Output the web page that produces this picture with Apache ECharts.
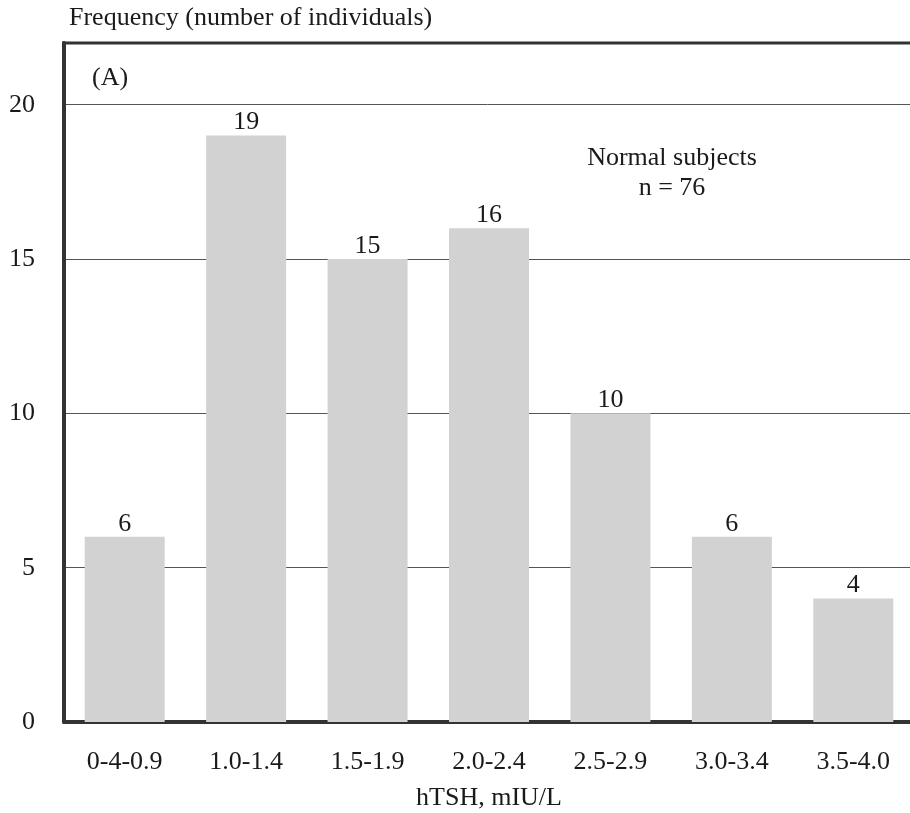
<!DOCTYPE html>
<html>
<head>
<meta charset="utf-8">
<script src="https://cdn.jsdelivr.net/npm/echarts@6/dist/echarts.min.js"></script>
<style>
  html, body { margin: 0; padding: 0; background: #fff; }
  #chart { width: 910px; height: 813px; }
</style>
</head>
<body>
<div id="chart"></div>
<script>
// hTSH ranges (mIU/L) and number of normal subjects in each range
const categories = ['0-4-0.9', '1.0-1.4', '1.5-1.9', '2.0-2.4', '2.5-2.9', '3.0-3.4', '3.5-4.0'];
const counts = [6, 19, 15, 16, 10, 6, 4];
const yTicks = [0, 5, 10, 15, 20];

const serif = '"Liberation Serif", "DejaVu Serif", serif';
const textColor = '#1a1a1a';
const fs = 26;

const chart = echarts.init(document.getElementById('chart'), null, { renderer: 'canvas' });

chart.setOption({
  animation: false,
  backgroundColor: '#ffffff',
  textStyle: { fontFamily: serif },
  grid: { left: 64, right: -4, top: 43, bottom: 91, containLabel: false, outerBoundsMode: 'none' },
  graphic: [
    // frame top edge
    { type: 'line', z: 10, shape: { x1: 62, y1: 43, x2: 910, y2: 43 },
      style: { stroke: '#333', lineWidth: 3 } },
    { type: 'text', left: 92, top: 65,
      style: { text: '(A)', font: fs + 'px ' + serif, fill: textColor } },
    { type: 'text', x: 672, y: 143,
      style: { text: 'Normal subjects\nn = 76', font: fs + 'px ' + serif, fill: textColor,
               align: 'center', lineHeight: 30 } }
  ],
  xAxis: {
    type: 'category',
    data: categories,
    boundaryGap: true,
    name: 'hTSH, mIU/L',
    nameLocation: 'middle',
    nameGap: 63,
    nameTextStyle: { fontSize: fs, color: textColor, fontFamily: serif },
    axisLine: { show: true, lineStyle: { color: '#333', width: 4 } },
    axisTick: { show: false },
    axisLabel: { fontSize: fs, color: textColor, fontFamily: serif, margin: 27, interval: 0 }
  },
  yAxis: {
    type: 'value',
    min: 0,
    max: 22,
    interval: 5,
    name: 'Frequency (number of individuals)',
    nameLocation: 'end',
    nameGap: 12,
    nameTextStyle: { fontSize: fs, color: textColor, fontFamily: serif, align: 'left', padding: [0, 0, 0, 5] },
    axisLine: { show: true, lineStyle: { color: '#333', width: 4 } },
    axisTick: { show: false },
    axisLabel: {
      fontSize: fs, color: textColor, fontFamily: serif, margin: 29,
      formatter: v => (yTicks.indexOf(v) >= 0 ? String(v) : '')
    },
    splitLine: { show: true, lineStyle: { color: '#555', width: 1 } }
  },
  series: [{
    type: 'bar',
    data: counts,
    barWidth: 80,
    itemStyle: { color: '#d2d2d2' },
    label: {
      show: true,
      position: 'top',
      distance: 0,
      fontSize: fs,
      color: textColor,
      fontFamily: serif
    }
  }]
});
</script>
</body>
</html>
